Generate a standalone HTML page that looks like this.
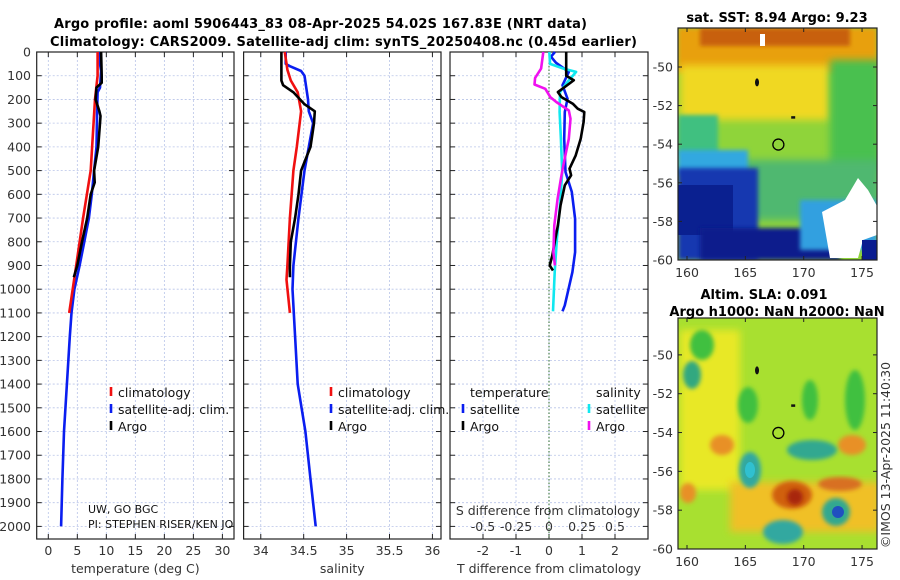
<!DOCTYPE html>
<html><head><meta charset="utf-8"><style>
html,body{margin:0;padding:0;background:#fff;}
svg{display:block;font-family:"DejaVu Sans","Liberation Sans",sans-serif;}
.tk{font-size:12.5px;fill:#333;}
.tt{font-size:13px;font-weight:bold;fill:#000;}
.lg{font-size:12.5px;fill:#111;}
.grid{stroke:#b8c4e8;stroke-width:0.8;stroke-dasharray:2,2;}
.ax{fill:none;stroke:#222;stroke-width:1.2;}
</style></head><body>
<svg id="fig" width="900" height="580" viewBox="0 0 900 580" xmlns="http://www.w3.org/2000/svg">
<defs>
<clipPath id="c1"><rect x="36.7" y="52" width="197.3" height="487"/></clipPath>
<clipPath id="m1"><rect x="678" y="28" width="199" height="232"/></clipPath>
<clipPath id="m2"><rect x="678" y="318" width="199" height="231"/></clipPath>
<filter id="bl" x="-20%" y="-20%" width="140%" height="140%"><feGaussianBlur stdDeviation="4"/></filter>
<filter id="bl2" x="-20%" y="-20%" width="140%" height="140%"><feGaussianBlur stdDeviation="2"/></filter>
</defs>
<text class="tt" x="54" y="28" textLength="533">Argo profile: aoml 5906443_83 08-Apr-2025 54.02S 167.83E (NRT data)</text>
<text class="tt" x="50" y="46" textLength="587">Climatology: CARS2009. Satellite-adj clim: synTS_20250408.nc (0.45d earlier)</text>
<g id="panels"></g>

<!-- SST map -->
<g clip-path="url(#m1)">
<rect x="678" y="28" width="199" height="232" fill="#8fd43a"/>
<rect x="678" y="28" width="199" height="45" fill="#e8a010" filter="url(#bl2)"/>
<rect x="700" y="28" width="150" height="18" fill="#c86008" filter="url(#bl2)"/>
<rect x="680" y="65" width="150" height="55" fill="#f0d820" filter="url(#bl)"/>
<rect x="830" y="60" width="50" height="110" fill="#48c050" filter="url(#bl)"/>
<rect x="678" y="115" width="40" height="40" fill="#40c080" filter="url(#bl2)"/>
<rect x="720" y="160" width="160" height="60" fill="#50b870" filter="url(#bl)"/>
<rect x="678" y="150" width="70" height="25" fill="#30a8e0" filter="url(#bl2)"/>
<rect x="678" y="168" width="80" height="92" fill="#1838b0" filter="url(#bl2)"/>
<rect x="678" y="185" width="55" height="50" fill="#0a2090"/>
<rect x="700" y="228" width="140" height="32" fill="#0c1c8c" filter="url(#bl2)"/>
<rect x="800" y="200" width="77" height="50" fill="#30a0e0" filter="url(#bl2)"/>
<polygon points="822,212 845,200 858,178 868,190 877,206 877,235 863,240 858,258 830,258 826,235" fill="#fff"/>
<rect x="862" y="240" width="15" height="20" fill="#0a1c90"/>
<rect x="760" y="11" width="5" height="12" fill="#fff" transform="translate(0,23)"/>
</g>
<rect class="ax" x="678" y="28" width="199" height="232"/>
<text class="tt" x="777" y="22" text-anchor="middle">sat. SST: 8.94 Argo: 9.23</text>

<!-- SLA map -->
<g clip-path="url(#m2)">
<rect x="678" y="318" width="199" height="231" fill="#a8e030"/>
<rect x="680" y="330" width="60" height="160" fill="#e8e828" filter="url(#bl)"/>
<ellipse cx="702" cy="345" rx="12" ry="15" fill="#40c040" filter="url(#bl2)"/>
<ellipse cx="692" cy="375" rx="9" ry="14" fill="#30a880" filter="url(#bl2)"/>
<ellipse cx="748" cy="405" rx="10" ry="18" fill="#40c040" filter="url(#bl2)"/>
<ellipse cx="810" cy="400" rx="8" ry="20" fill="#40c040" filter="url(#bl2)"/>
<ellipse cx="855" cy="400" rx="10" ry="30" fill="#40c040" filter="url(#bl2)"/>
<ellipse cx="722" cy="445" rx="12" ry="10" fill="#e89028" filter="url(#bl2)"/>
<ellipse cx="852" cy="445" rx="14" ry="10" fill="#e89028" filter="url(#bl2)"/>
<rect x="730" y="482" width="150" height="50" fill="#f0c028" filter="url(#bl)"/>
<ellipse cx="792" cy="495" rx="20" ry="14" fill="#d06010" filter="url(#bl2)"/>
<ellipse cx="795" cy="497" rx="8" ry="8" fill="#a82808" filter="url(#bl2)"/>
<ellipse cx="840" cy="484" rx="22" ry="7" fill="#d87020" filter="url(#bl2)"/>
<ellipse cx="750" cy="470" rx="11" ry="18" fill="#30a8a0" filter="url(#bl2)"/>
<ellipse cx="750" cy="470" rx="5" ry="8" fill="#30c0d0"/>
<ellipse cx="812" cy="450" rx="25" ry="10" fill="#30a890" filter="url(#bl2)"/>
<ellipse cx="836" cy="512" rx="14" ry="14" fill="#30a890" filter="url(#bl2)"/>
<ellipse cx="838" cy="512" rx="6" ry="6" fill="#2050c0"/>
<ellipse cx="783" cy="532" rx="20" ry="12" fill="#30a8a0" filter="url(#bl2)"/>
<ellipse cx="688" cy="493" rx="8" ry="10" fill="#e89028" filter="url(#bl2)"/>
</g>
<rect class="ax" x="678" y="318" width="199" height="231"/>
<text class="tt" x="764" y="299" text-anchor="middle">Altim. SLA: 0.091</text>
<text class="tt" x="777" y="316" text-anchor="middle">Argo h1000: NaN h2000: NaN</text>
<text class="tk" transform="translate(890,455) rotate(-90)" text-anchor="middle">©IMOS 13-Apr-2025 11:40:30</text>
<g id="maps"></g>
</svg>
<script>
// ---- data ----
const depthTicks=[0,100,200,300,400,500,600,700,800,900,1000,1100,1200,1300,1400,1500,1600,1700,1800,1900,2000];
const tempTicks=[0,5,10,15,20,25,30];
const salTicks=[34,34.5,35,35.5,36];
const tdiffTicks=[-2,-1,0,1,2];
const sdiffLabels=["-0.5","-0.25","0","0.25","0.5"];
const climTempD=[0,100,200,500,700,900,1000,1100];
const climTempV=[8.5,8.5,8.05,7.3,6.0,4.8,4.2,3.6];
const satTempD=[0,50,80,150,170,250,400,500,600,700,800,900,1000,1100,1200,1400,1600,1800,2000];
const satTempV=[8.9,8.9,9.1,8.9,8.5,8.4,8.3,7.9,7.5,7.0,6.2,5.4,4.5,4.0,3.7,3.2,2.7,2.43,2.2];
const argoTempD=[0,100,130,150,200,250,270,300,400,500,550,600,700,800,900,950];
const argoTempV=[9.1,9.2,9.2,8.3,8.15,8.8,9.0,8.9,8.6,7.9,8.0,7.3,6.7,5.8,5.0,4.4];
const climSalD=[0,75,120,170,250,400,500,700,900,960,1100];
const climSalV=[34.28,34.31,34.35,34.43,34.47,34.42,34.38,34.34,34.31,34.30,34.34];
const satSalD=[0,50,60,80,100,200,250,300,400,500,700,900,1000,1200,1400,1600,1800,2000];
const satSalV=[34.29,34.29,34.34,34.47,34.51,34.55,34.56,34.61,34.56,34.51,34.44,34.38,34.37,34.40,34.43,34.52,34.58,34.64];
const argoSalD=[0,120,140,170,220,250,300,400,500,600,700,800,900,950];
const argoSalV=[34.24,34.24,34.26,34.38,34.51,34.63,34.62,34.58,34.47,34.44,34.40,34.35,34.34,34.34];
const satTdD=[0,20,45,84,140,197,253,366,506,590,703,844,928,1068,1093];
const satTdV=[0.18,0.06,0.21,0.6,0.41,0.56,0.48,0.46,0.5,0.69,0.79,0.79,0.71,0.48,0.41];
const argoTdD=[0,100,119,133,169,190,218,239,253,295,366,436,492,520,562,647,731,788,858,900,921];
const argoTdV=[0.52,0.52,0.75,0.62,0.27,0.38,0.72,0.87,1.07,1.05,0.96,0.81,0.62,0.67,0.48,0.35,0.27,0.19,0.10,0.02,0.12];
const satSdD=[0,50,70,84,126,169,253,366,506,647,788,928,1093];
const satSdV=[0.002,0.008,0.11,0.205,0.14,0.083,0.08,0.09,0.1,0.083,0.06,0.043,0.03];
const argoSdD=[0,70,109,137,155,190,211,246,281,366,478,534,619,731,844,900];
const argoSdV=[-0.043,-0.06,-0.105,-0.11,-0.028,0.01,0.055,0.15,0.163,0.15,0.108,0.09,0.065,0.04,0.033,0.045];
const latTicks=[-50,-52,-54,-56,-58,-60];
const lonTicks=[160,165,170,175];

// ---- axes ----
const NS="http://www.w3.org/2000/svg";
const svg=document.getElementById('panels');
function mk(tag,at,parent){const e=document.createElementNS(NS,tag);for(const k in at)e.setAttribute(k,at[k]);(parent||svg).appendChild(e);return e;}
const Y0=52,Y1=539;
const yD=d=>52+d*0.2372;
const panels=[
 {x0:36.7,x1:234,lo:-2,hi:32,ticks:tempTicks,label:'temperature (deg C)',name:'temperature'},
 {x0:243.6,x1:441,lo:33.8,hi:36.1,ticks:salTicks,label:'salinity',name:'salinity'},
 {x0:450,x1:648,lo:-3,hi:3,ticks:tdiffTicks,label:'T difference from climatology',name:'difference'}];
panels.forEach((p,i)=>{
 p.sx=v=>p.x0+(v-p.lo)/(p.hi-p.lo)*(p.x1-p.x0);
 const g=mk('g',{});
 
 
 depthTicks.forEach(d=>{
  const l=mk('line',{x1:p.x0,x2:p.x1,y1:yD(d),y2:yD(d),class:'grid'},g);
  mk('line',{x1:p.x0,x2:p.x0+5,y1:yD(d),y2:yD(d),stroke:'#222'},g);
  mk('line',{x1:p.x1,x2:p.x1-5,y1:yD(d),y2:yD(d),stroke:'#222'},g);
  if(i===0){const t=mk('text',{x:31,y:yD(d)+4.5,'text-anchor':'end',class:'tk'},g);t.textContent=d;
   
   }
 });
 p.ticks.forEach(v=>{
  const x=p.sx(v);
  mk('line',{x1:x,x2:x,y1:Y0,y2:Y1,class:'grid'},g);
  mk('line',{x1:x,x2:x,y1:Y0,y2:Y0+5,stroke:'#222'},g);
  mk('line',{x1:x,x2:x,y1:Y1,y2:Y1-5,stroke:'#222'},g);
  const t=mk('text',{x:x,y:555,'text-anchor':'middle',class:'tk'},g);t.textContent=v;
  
  
 });
 mk('rect',{x:p.x0,y:Y0,width:p.x1-p.x0,height:Y1-Y0,class:'ax'},g);
 const t=mk('text',{x:(p.x0+p.x1)/2,y:573,'text-anchor':'middle',class:'tk'},g);t.textContent=p.label;
 
 
});
const P3=panels[2];
mk('line',{x1:P3.sx(0),x2:P3.sx(0),y1:Y0,y2:Y1,stroke:'#2a6a2a','stroke-dasharray':'1.5,2','stroke-width':1});
function line(p,D,V,col,name,scale){
 const pts=D.map((d,i)=>p.sx(V[i]*(scale||1)).toFixed(1)+','+yD(d).toFixed(1)).join(' ');
 const e=mk('polyline',{points:pts,fill:'none',stroke:col,'stroke-width':2.6,'stroke-linejoin':'round'});
 
 
}
const [P1,P2]=panels;
line(P1,satTempD,satTempV,'#0a1ef0','temp-satellite-line');
line(P1,climTempD,climTempV,'#f01010','temp-climatology-line');
line(P1,argoTempD,argoTempV,'#000','temp-argo-line');
line(P2,satSalD,satSalV,'#0a1ef0','sal-satellite-line');
line(P2,climSalD,climSalV,'#f01010','sal-climatology-line');
line(P2,argoSalD,argoSalV,'#000','sal-argo-line');
line(P3,satTdD,satTdV,'#0a1ef0','tdiff-satellite-line');
line(P3,satSdD,satSdV,'#10e8f0','sdiff-satellite-line',4);
line(P3,argoTdD,argoTdV,'#000','tdiff-argo-line');
line(P3,argoSdD,argoSdV,'#f010f0','sdiff-argo-line',4);
// S diff labels
sdiffLabels.forEach((s,i)=>{const t=mk('text',{x:P3.sx(tdiffTicks[i]),y:531,'text-anchor':'middle',class:'tk'});t.textContent=s;
 
 });
{const t=mk('text',{x:548,y:515,'text-anchor':'middle',class:'tk'});t.textContent='S difference from climatology';
 
 }
// legends
function leg(x,y,col,txt,name){
 mk('line',{x1:x,x2:x,y1:y-10,y2:y-1,stroke:col,'stroke-width':2.6});
 const t=mk('text',{x:x+7,y:y,class:'lg'});t.textContent=txt;
 
 
}
leg(111,397,'#f01010','climatology','legend-climatology');
leg(111,414,'#0a1ef0','satellite-adj. clim.','legend-satellite');
leg(111,431,'#000','Argo','legend-argo');
leg(331,397,'#f01010','climatology','legend-climatology');
leg(331,414,'#0a1ef0','satellite-adj. clim.','legend-satellite');
leg(331,431,'#000','Argo','legend-argo');
{const t=mk('text',{x:470,y:397,class:'lg'});t.textContent='temperature';}
{const t=mk('text',{x:596,y:397,class:'lg'});t.textContent='salinity';}
leg(463,414,'#0a1ef0','satellite','legend-t-satellite');
leg(463,431,'#000','Argo','legend-t-argo');
leg(589,414,'#10e8f0','satellite','legend-s-satellite');
leg(589,431,'#f010f0','Argo','legend-s-argo');
{const g=mk('g',{'clip-path':'url(#c1)'});
 const a=mk('text',{x:88,y:513,'font-size':'11px',fill:'#111'},g);a.textContent='UW, GO BGC';
 
 const b=mk('text',{x:88,y:528,'font-size':'11px',fill:'#111'},g);b.textContent='PI: STEPHEN RISER/KEN JOHNSON';
 }
// maps
const mg=document.getElementById('maps');
[{top:28,bot:260,lat0:-47.98},{top:318,bot:549,lat0:-48.1}].forEach((m,k)=>{
 const per=(m.bot-m.top)/(m.lat0+60);
 const ly=lat=>m.top+(m.lat0-lat)*per;
 const lx=lon=>687+(lon-160)*11.67;
 latTicks.forEach(l=>{const y=ly(l);
  mk('line',{x1:678,x2:682,y1:y,y2:y,stroke:'#222'},mg);mk('line',{x1:877,x2:873,y1:y,y2:y,stroke:'#222'},mg);
  const t=mk('text',{x:673,y:y+4.5,'text-anchor':'end',class:'tk'},mg);t.textContent=l;
  });
 lonTicks.forEach(l=>{const x=lx(l);
  mk('line',{x1:x,x2:x,y1:m.bot,y2:m.bot-4,stroke:'#222'},mg);mk('line',{x1:x,x2:x,y1:m.top,y2:m.top+4,stroke:'#222'},mg);
  const t=mk('text',{x:x,y:m.bot+17,'text-anchor':'middle',class:'tk'},mg);t.textContent=l;
  });
 const c=mk('circle',{cx:lx(167.83),cy:ly(-54.02),r:5.5,fill:'none',stroke:'#000','stroke-width':1.3},mg);
 
 mk('ellipse',{cx:lx(166),cy:ly(-50.8),rx:2,ry:4,fill:'#111'},mg);
 mk('rect',{x:lx(169.1)-2,y:ly(-52.6)-1,width:4,height:2.5,fill:'#111'},mg);
});
</script>
</body></html>
